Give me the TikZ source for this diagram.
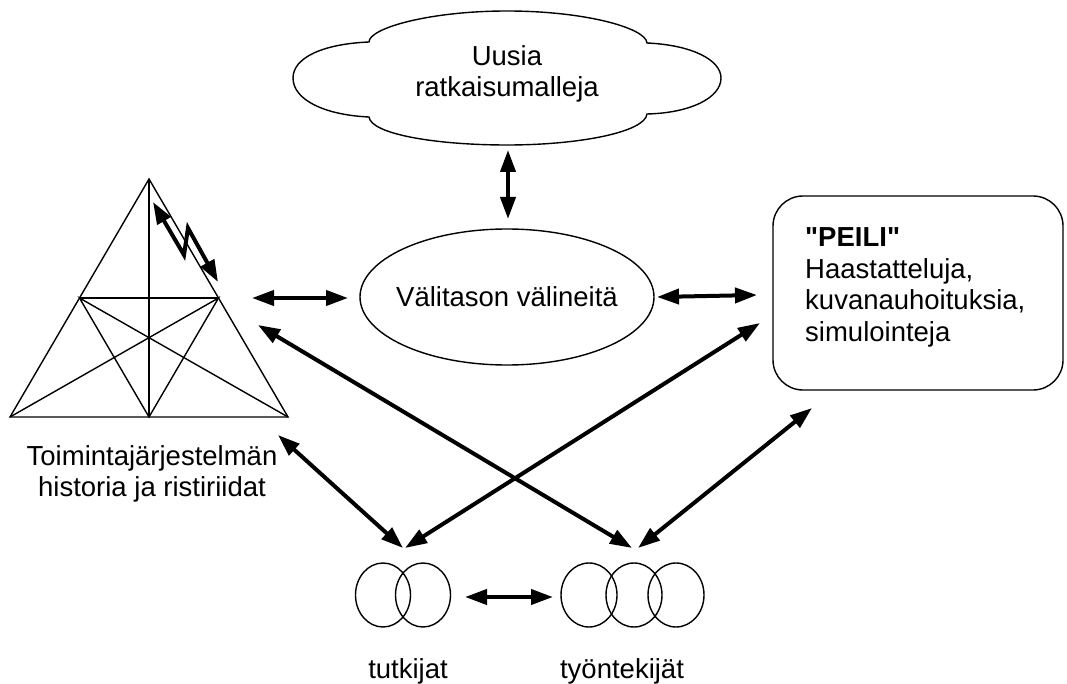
\documentclass[tikz,border=0pt]{standalone}
\usepackage{fontspec}
\setmainfont{Liberation Sans}[Ligatures=TeXOff]
\usetikzlibrary{arrows.meta,shapes.geometric}
\begin{document}
\begin{tikzpicture}[x=1pt,y=-1pt,
  outline/.style={line width=1.4pt},
  dbl/.style={line width=4pt,{Triangle[length=22pt,width=15pt]}-{Triangle[length=22pt,width=15pt]}},
  txt/.style={font=\fontsize{27.5}{31.5}\selectfont,inner sep=0pt}]
\useasboundingbox (0,0) rectangle (1067,684);

% cloud: new solution models
\draw[outline] (369,42) .. controls (369,28) and (430,11) .. (507,11)
  .. controls (585,11) and (646,28) .. (647,43)
  .. controls (692,45) and (721,60) .. (721,78)
  .. controls (721,98) and (690,113) .. (647,114)
  .. controls (645,132) and (580,145) .. (507,145)
  .. controls (435,145) and (371,134) .. (369,117)
  .. controls (325,115) and (293,100) .. (293,78)
  .. controls (293,58) and (322,44) .. (369,42) -- cycle;
\node[txt,align=center] (cloud) at (507,74) {Uusia\\ratkaisumalleja};

% activity system triangle
\coordinate (apex) at (149,179);
\coordinate (bl) at (10,417);
\coordinate (br) at (288,417);
\coordinate (lm) at (79.5,298);
\coordinate (rm) at (218.5,298);
\coordinate (bm) at (149,417);
\draw[outline,line join=miter] (apex) -- (bl) -- (br) -- cycle;
\draw[outline] (apex) -- (bm);
\draw[outline] (lm) -- (rm);
\draw[outline] (bl) -- (rm) -- (bm) -- (lm) -- (br);
\draw[dbl] (153,202) -- (184,255) -- (188,228) -- (218,282);
\node[txt,align=center] (hist) at (152,474) {Toimintajärjestelmän\\historia ja ristiriidat};

% mediating tools
\node[draw,outline,ellipse,minimum width=294pt,minimum height=136pt,inner sep=0pt] (mid) at (507,297) {};
\node[txt,anchor=base] (midtext) at (507,306) {Välitason välineitä};

% mirror box
\draw[outline,rounded corners=30pt] (773,196) rectangle (1063,390);
\node[txt,align=left,anchor=west] (peili) at (805,287.3)
  {\textbf{"PEILI"}\\Haastatteluja,\\kuvanauhoituksia,\\simulointeja};

% researchers and practitioners
\draw[outline] (383,595) ellipse [x radius=27.5, y radius=32];
\draw[outline] (423,595) ellipse [x radius=27.5, y radius=32];
\draw[outline] (589,595) ellipse [x radius=28, y radius=32];
\draw[outline] (634,595) ellipse [x radius=28, y radius=32];
\draw[outline] (676,595) ellipse [x radius=28, y radius=32];
\node[txt,anchor=base] (tut) at (408,678) {tutkijat};
\node[txt,anchor=base] (tyo) at (622,678) {työntekijät};

% connector end points
\coordinate (cloudS) at (508,150);
\coordinate (midN) at (508,219);
\coordinate (triE) at (252,298);
\coordinate (midW) at (348,298);
\coordinate (midE) at (657,297);
\coordinate (peiliW) at (757,295);
\coordinate (triSE) at (258,325);
\coordinate (tyoN) at (632,548);
\coordinate (tutN) at (405,548);
\coordinate (peiliSW) at (760,323);
\coordinate (triB) at (278,435);
\coordinate (tutNW) at (403,548);
\coordinate (peiliS) at (812,408);
\coordinate (tyoNE) at (638,548);
\coordinate (tutE) at (465,597);
\coordinate (tyoW) at (553,597);

\draw[dbl] (cloudS) -- (midN);
\draw[dbl] (triE) -- (midW);
\draw[dbl] (midE) -- (peiliW);
\draw[dbl] (triSE) -- (tyoN);
\draw[dbl] (tutN) -- (peiliSW);
\draw[dbl] (triB) -- (tutNW);
\draw[dbl] (peiliS) -- (tyoNE);
\draw[dbl] (tutE) -- (tyoW);
\end{tikzpicture}
\end{document}
